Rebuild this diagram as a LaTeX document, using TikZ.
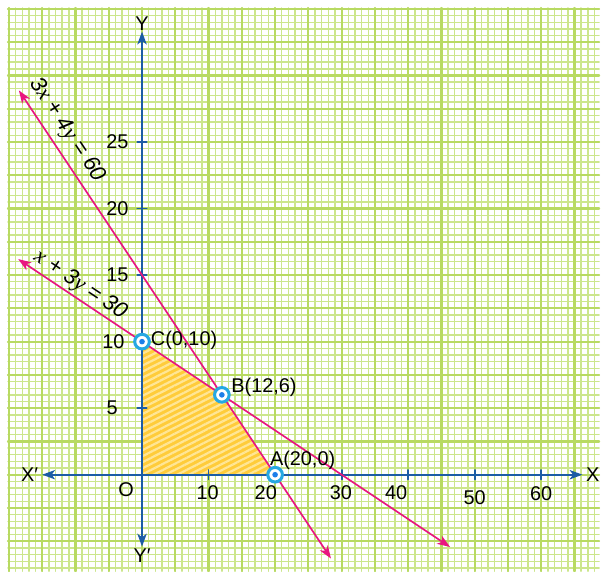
\documentclass[tikz,border=0pt]{standalone}
\usepackage{fontspec}
\setmainfont{Liberation Sans}
\newfontfamily\varfont{Liberation Serif}
\newcommand{\mvar}[1]{{\varfont\itshape #1}}
\usetikzlibrary{arrows.meta,patterns.meta}
\definecolor{gridminor}{RGB}{204,230,140}
\definecolor{gridmajor}{RGB}{184,218,98}
\definecolor{axisblue}{RGB}{28,92,165}
\definecolor{linepink}{RGB}{232,22,128}
\definecolor{ringblue}{RGB}{38,168,226}
\definecolor{regionfill}{RGB}{255,204,58}
\definecolor{regionstripe}{RGB}{255,230,150}
\begin{document}
\begin{tikzpicture}[x=2mm, y=4mm, font=\fontsize{17}{20}\selectfont, line join=round, line cap=round,
    >={Stealth[length=11pt, width=8pt, inset=3pt]},
    axis/.style={draw=axisblue, line width=1.5pt},
    cline/.style={draw=linepink, line width=1.4pt, <->},
    eqlabel/.style={font=\fontsize{19}{22}\selectfont\itshape},
    vertex/.style={circle, draw=ringblue, line width=2.6pt, fill=white, inner sep=0pt, minimum size=12.5pt,
      path picture={\fill[ringblue!75!blue] (path picture bounding box.center) circle (2.4pt);}}]
  % graph paper, one major cell = 1cm
  \begin{scope}[x=1cm, y=1cm]
    \useasboundingbox (-4.269,-2.896) rectangle (13.731,14.269);
    \fill[white] (-4.269,-2.896) rectangle (13.731,14.269);
    \draw[gridminor, line width=1.2pt, step=2mm] (-4.03,-2.9) grid (13.74,14.03);
    \draw[gridmajor, line width=1.9pt, step=1cm] (-4.03,-2.9) grid (13.74,14.03);
  \end{scope}
  \path (0,0) coordinate (O) (20,0) coordinate (A) (12,6) coordinate (B) (0,10) coordinate (C)
    (-15,0) coordinate (Xl) (66.2,0) coordinate (Xr) (0,-5.4) coordinate (Yb) (0,33.3) coordinate (Yt)
    (-18.5,28.875) coordinate (P1) (28.4,-6.3) coordinate (P2) %3x+4y=60
    (-18.6,16.2) coordinate (Q1) (46.3,-5.433) coordinate (Q2); %x+3y=30
  \fill[regionfill, postaction={pattern={Lines[angle=27, distance=4.6pt, line width=1.9pt]}, pattern color=regionstripe}]
    (O)--(A)--(B)--(C)--cycle;
  \draw[axis, <->] (Xl)--(Xr);
  \draw[axis, <->] (Yb)--(Yt);
  \foreach \t in {10,20,...,60} {\draw[axis] (\t,-0.35)--(\t,0.35);}
  \foreach \t in {5,10,...,25} {\draw[axis] (-0.7,\t)--(0.7,\t);}
  \draw[cline] (P1)--(P2);
  \draw[cline] (Q1)--(Q2);
  \node[right, inner sep=3pt] (X) at (Xr) {X};
  \node[left] (Xp) at (Xl) {X′};
  \node[above, inner sep=1pt] (Y) at (Yt) {Y};
  \node[below, inner sep=2pt] (Yp) at (Yb) {Y′};
  \node (o) at (-2.4,-1.1) {O};
  \foreach \t/\p/\q in {10/9.85/-1.35, 20/18.6/-1.35, 30/29.9/-1.35, 40/38.2/-1.35, 50/50/-1.7, 60/60/-1.4}
    {\node (x\t) at (\p,\q) {\t};}
  \foreach \t/\p in {5/-4.5, 10/-4.3, 15/-3.7, 20/-3.7, 25/-3.7}
    {\node (y\t) at (\p,\t) {\t};}
  \node[eqlabel, rotate=-56.31] (l1) at (-11.27,25.9) {3\mvar{x} + 4\mvar{y} = 60};
  \node[eqlabel, rotate=-33.69] (l2) at (-9.25,14.25) {\mvar{x} + 3\mvar{y} = 30};
  \foreach \v in {A,B,C} {\node[vertex] (m\v) at (\v) {};}
  \node[anchor=west, inner sep=0pt] (lC) at (1.3,10.1) {C(0,10)};
  \node[anchor=west, inner sep=0pt] (lB) at (13.4,6.57) {B(12,6)};
  \node[anchor=west, inner sep=0pt] (lA) at (19.2,1.1) {A(20,0)};
\end{tikzpicture}
\end{document}
